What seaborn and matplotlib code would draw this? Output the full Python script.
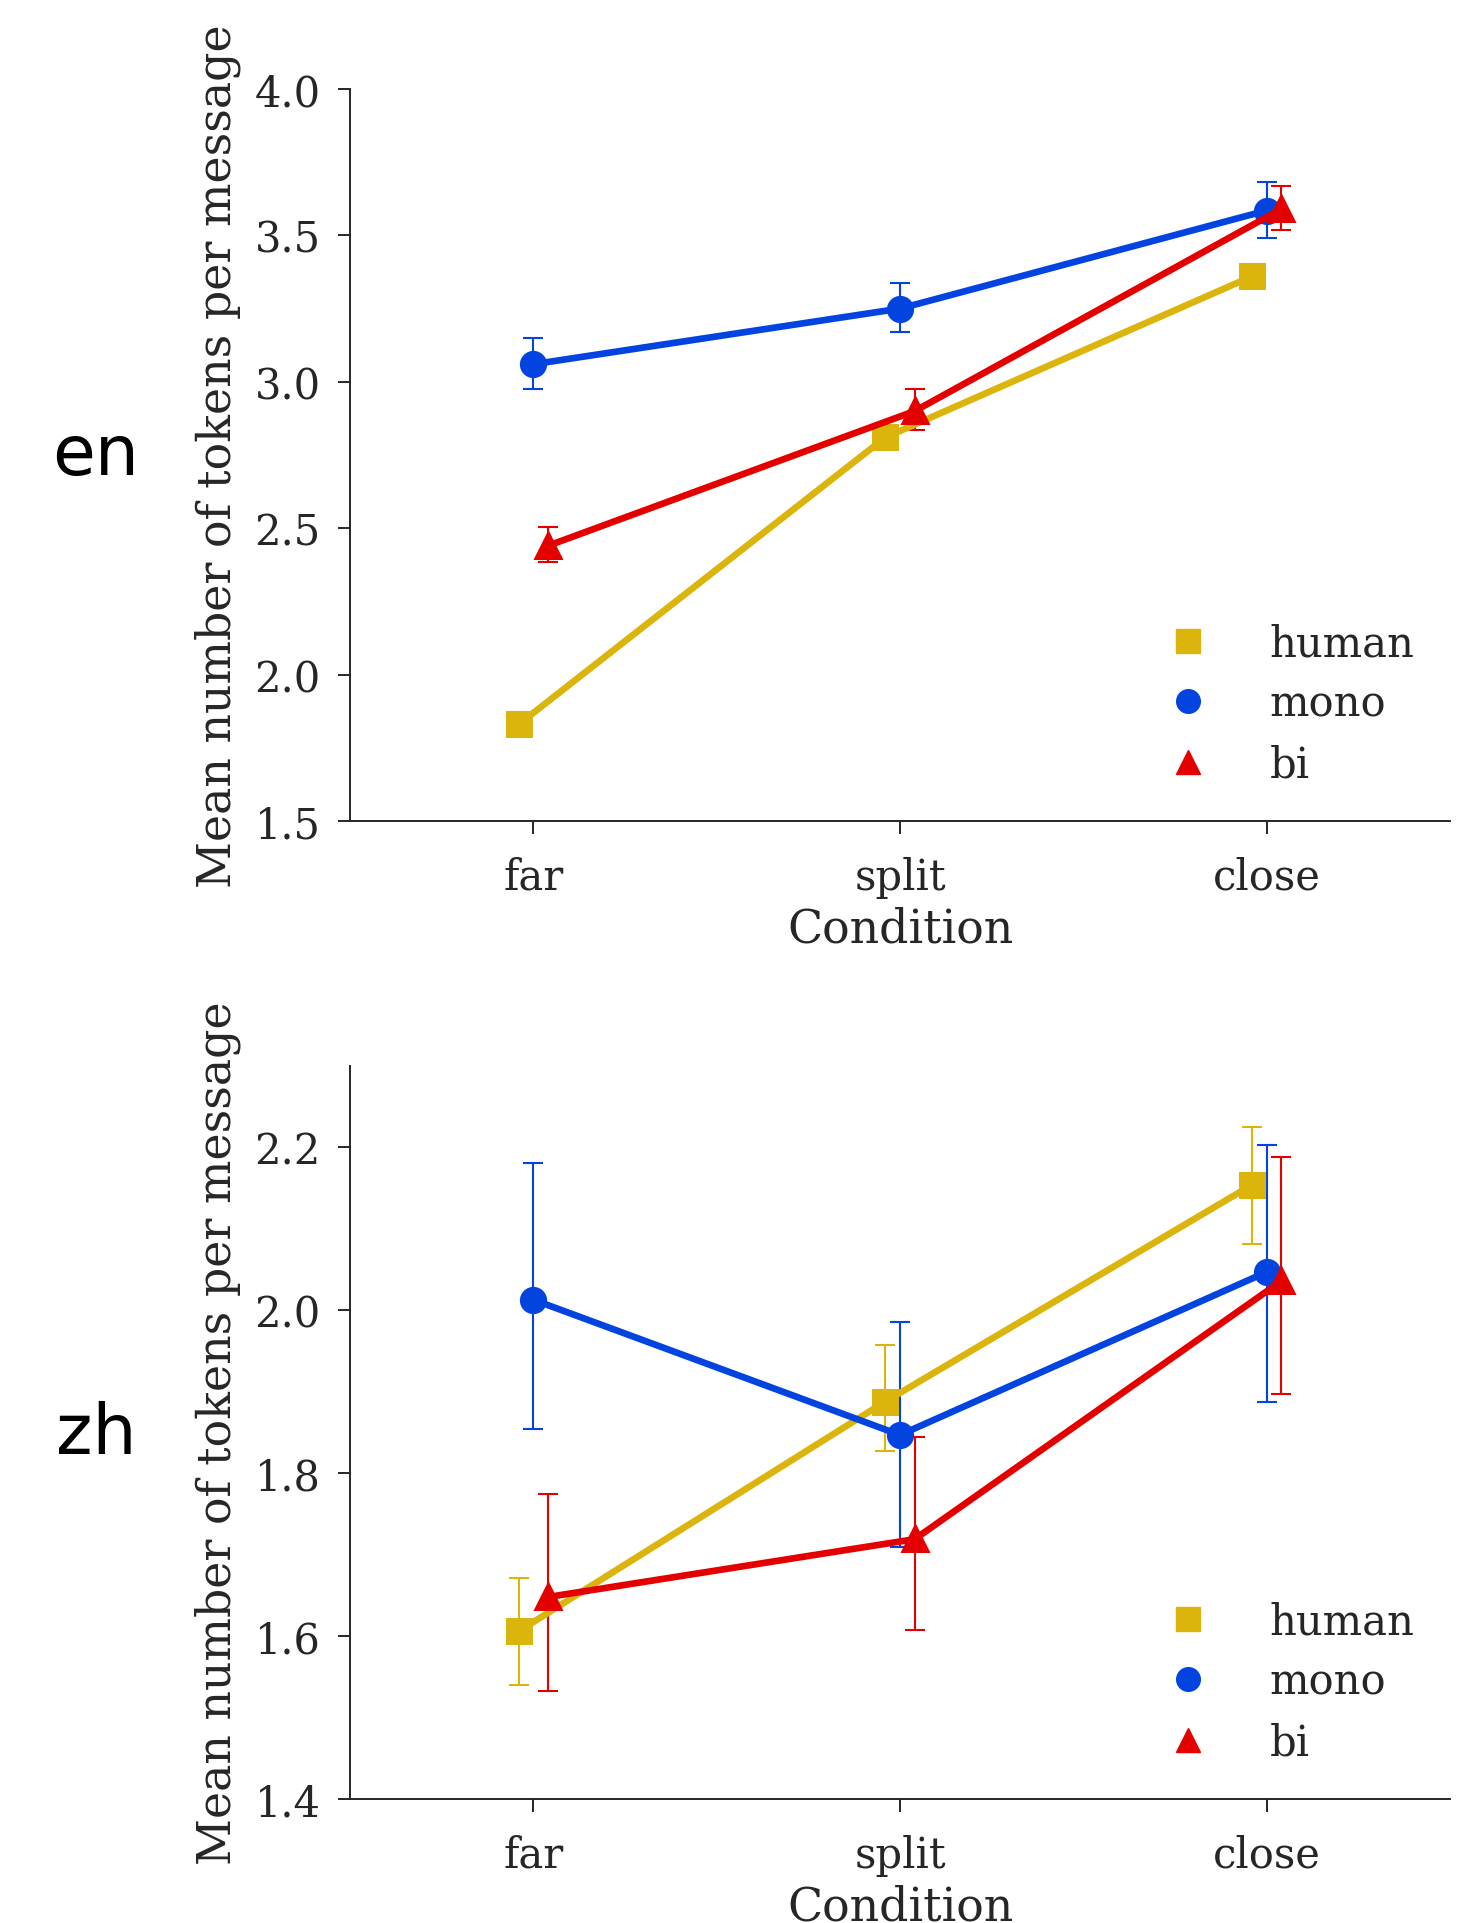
import numpy as np
import pandas as pd
import matplotlib
matplotlib.use("Agg")
import matplotlib.pyplot as plt
from matplotlib.lines import Line2D
import seaborn as sns

conditions = ["far", "split", "close"]
models = ["human", "mono", "bi"]
colors = ["#dbb40c", "#0343df", "#e50000"]
markers = ["s", "o", "^"]

# en panel
en_human = [1.83, 2.81, 3.36]
en_mono = [3.06, 3.25, 3.585]
en_bi = [2.44, 2.90, 3.59]
en_human_lo = [np.nan, np.nan, np.nan]
en_human_hi = [np.nan, np.nan, np.nan]
en_mono_lo = [2.974, 3.170, 3.492]
en_mono_hi = [3.151, 3.339, 3.682]
en_bi_lo = [2.384, 2.836, 3.518]
en_bi_hi = [2.505, 2.976, 3.668]

# zh panel
zh_human = [1.606, 1.888, 2.154]
zh_mono = [2.013, 1.847, 2.047]
zh_bi = [1.648, 1.719, 2.036]
zh_human_lo = [1.540, 1.827, 2.081]
zh_human_hi = [1.671, 1.958, 2.225]
zh_mono_lo = [1.854, 1.710, 1.888]
zh_mono_hi = [2.181, 1.986, 2.203]
zh_bi_lo = [1.532, 1.608, 1.897]
zh_bi_hi = [1.775, 1.844, 2.188]

panels = [
    ("en", [en_human, en_mono, en_bi],
     [en_human_lo, en_mono_lo, en_bi_lo], [en_human_hi, en_mono_hi, en_bi_hi],
     (1.5, 4.0), [1.5, 2.0, 2.5, 3.0, 3.5, 4.0]),
    ("zh", [zh_human, zh_mono, zh_bi],
     [zh_human_lo, zh_mono_lo, zh_bi_lo], [zh_human_hi, zh_mono_hi, zh_bi_hi],
     (1.4, 2.3), [1.4, 1.6, 1.8, 2.0, 2.2]),
]

sns.set_theme(style="ticks")
plt.rcParams["font.family"] = ["DejaVu Serif"]
plt.rcParams["xtick.major.size"] = 9
plt.rcParams["ytick.major.size"] = 9
plt.rcParams["xtick.major.width"] = 1.4
plt.rcParams["ytick.major.width"] = 1.4
plt.rcParams["axes.linewidth"] = 1.4

W, H = 1466, 1924
fig = plt.figure(figsize=(W / 100, H / 100), dpi=100)

axes_pos = [
    [350 / W, 1 - 822 / H, 1100 / W, (822 - 90) / H],
    [350 / W, 1 - 1800 / H, 1100 / W, (1800 - 1067) / H],
]
label_y = [1 - 456 / H, 1 - 1435 / H]

for (name, means, los, his, ylim, yticks), pos, ly in zip(panels, axes_pos, label_y):
    ax = fig.add_axes(pos)
    rows = []
    for m, vals in zip(models, means):
        for c, v in zip(conditions, vals):
            rows.append({"Condition": c, "model": m, "value": v})
    df = pd.DataFrame(rows)
    sns.pointplot(data=df, x="Condition", y="value", hue="model",
                  order=conditions, hue_order=models, palette=colors,
                  markers=markers, linestyles=["-", "-", "-"], dodge=0.08,
                  errorbar=None, ax=ax, linewidth=4.8, markersize=16,
                  legend=False)
    # error bars at the dodged positions used by pointplot
    for i, (vals, lo, hi, col) in enumerate(zip(means, los, his, colors)):
        xs = np.asarray(ax.lines[i].get_xdata(), dtype=float)
        vals = np.asarray(vals)
        lo = np.asarray(lo)
        hi = np.asarray(hi)
        ok = ~np.isnan(lo)
        if ok.any():
            ax.errorbar(xs[ok], vals[ok], yerr=[vals[ok] - lo[ok], hi[ok] - vals[ok]],
                        fmt="none", ecolor=col, elinewidth=1.5, capsize=7,
                        capthick=1.5, zorder=1)
    ax.set_xlim(-0.5, 2.5)
    ax.set_ylim(*ylim)
    ax.set_yticks(yticks)
    ax.set_yticklabels([f"{t:.1f}" for t in yticks])
    ax.tick_params(axis="y", labelsize=30, pad=12)
    ax.tick_params(axis="x", labelsize=30, pad=16)
    ax.set_xlabel("Condition", fontsize=33, labelpad=6)
    ax.set_ylabel("Mean number of tokens per message", fontsize=33, labelpad=10)
    sns.despine(ax=ax)
    handles = [Line2D([], [], marker=mk, color=col, linestyle="none", markersize=17)
               for mk, col in zip(markers, colors)]
    ax.legend(handles, models, loc="lower right", frameon=False, fontsize=30,
              handletextpad=0.95, labelspacing=0.45, borderaxespad=0.65,
              borderpad=0.2)
    fig.text(96 / W, ly, name, fontsize=50, family="DejaVu Sans",
             ha="center", va="center", color="black")

fig.savefig("out.png", dpi=100)
